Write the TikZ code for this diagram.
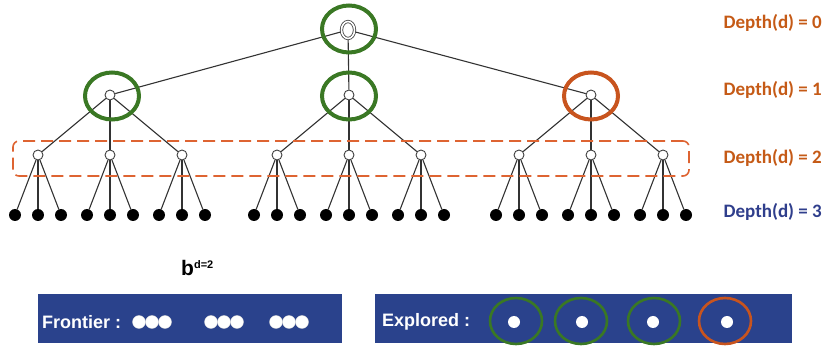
\documentclass[tikz,border=0pt]{standalone}
\usepackage{fontspec}
\setmainfont{Liberation Sans}
\newfontfamily\calfont{Carlito}
\usetikzlibrary{shapes.geometric,backgrounds}
\definecolor{ringgreen}{RGB}{58,120,36}
\definecolor{ringorange}{RGB}{200,84,30}
\definecolor{deptho}{RGB}{197,90,22}
\definecolor{depthb}{RGB}{47,62,140}
\definecolor{boxblue}{RGB}{42,66,140}
\definecolor{dashorange}{RGB}{222,100,50}
\begin{document}
\begin{tikzpicture}[x=1pt,y=-1pt,
  edge/.style={draw=black!80,line width=1.1pt},
  opennode/.style={circle,draw=black!75,fill=white,inner sep=0pt,minimum size=10pt,line width=0.9pt},
  rootnode/.style={ellipse,draw=black!75,double=white,double distance=1.6pt,fill=white,inner sep=0pt,minimum width=13pt,minimum height=17pt,line width=0.8pt},
  leaf/.style={circle,fill=black,inner sep=0pt,minimum size=12pt},
  ring/.style={ellipse,inner sep=0pt,minimum width=54pt,minimum height=47pt,line width=4pt},
  smallring/.style={ellipse,inner sep=0pt,minimum width=52pt,minimum height=46pt,line width=2.6pt},
  depthlabel/.style={anchor=east,inner sep=0pt,font=\calfont\bfseries\fontsize{19}{22}\selectfont},
  panel/.style={rectangle,fill=boxblue,inner sep=0pt,anchor=north west},
  paneltext/.style={anchor=west,inner sep=0pt,text=white,font=\bfseries\fontsize{18}{20}\selectfont},
  whitedot/.style={circle,fill=white,draw=black!15,line width=0.3pt,inner sep=0pt,minimum size=13pt}
]
\useasboundingbox (0,0) rectangle (828,347);

% root
\node[rootnode] (root) at (348,30) {};

% tree: three levels below the root
\foreach \i/\px in {1/110,2/349,3/591} {
  \node[opennode] (a\i) at (\px,95) {};
  \foreach \j/\dx in {1/-72,2/0,3/72} {
    \node[opennode] (b\i\j) at (\px+\dx,155) {};
    \foreach \k/\ex in {1/-23,2/0,3/23} {
      \node[leaf] (c\i\j\k) at (\px+\dx+\ex,215) {};
    }
  }
}

\begin{pgfonlayer}{background}
\foreach \i in {1,2,3} {
  \draw[edge] (root) -- (a\i);
  \foreach \j in {1,2,3} {
    \draw[edge] (a\i) -- (b\i\j);
    \foreach \k in {1,2,3} {\draw[edge] (b\i\j) -- (c\i\j\k);}
  }
}
\end{pgfonlayer}

% highlighted (explored) nodes
\node[ring,draw=ringgreen] (r0) at (349,29) {};
\node[ring,draw=ringgreen] (r1) at (112,96) {};
\node[ring,draw=ringgreen] (r2) at (349,96) {};
\node[ring,draw=ringorange] (r3) at (591,96) {};

% current depth band
\node[draw=dashorange,line width=1.6pt,dash pattern=on 12pt off 6pt,rounded corners=6pt,
      minimum width=676pt,minimum height=35pt,inner sep=0pt] (band) at (351,158.5) {};

% depth labels
\node[depthlabel,text=deptho] (d0) at (822,23) {Depth(d) = 0};
\node[depthlabel,text=deptho] (d1) at (822,90) {Depth(d) = 1};
\node[depthlabel,text=deptho] (d2) at (822,158) {Depth(d) = 2};
\node[depthlabel,text=depthb] (d3) at (822,212) {Depth(d) = 3};

% branching formula
\node[inner sep=0pt,anchor=west] (bd) at (181,268)
  {\bfseries\fontsize{21}{22}\selectfont b\raisebox{7pt}{\fontsize{11}{12}\selectfont d=2}};

% frontier panel
\node[panel,minimum width=304pt,minimum height=49pt] (front) at (38,294) {};
\node[paneltext] (ftext) at (42,322) {Frontier :};
\foreach \n/\x in {1/139,2/152,3/165,4/211,5/224,6/237,7/276,8/289,9/302} {
  \node[whitedot] (f\n) at (\x,322) {};
}

% explored panel
\node[panel,minimum width=417pt,minimum height=49pt] (expl) at (375,294) {};
\node[paneltext] (etext) at (382,322) {Explored :};
\foreach \n/\x/\rx/\c in {1/514/516/ringgreen,2/582/581/ringgreen,3/653/654/ringgreen,4/727/725/ringorange} {
  \node[whitedot,minimum size=12pt,draw=none] (e\n) at (\x,322) {};
  \node[smallring,draw=\c] (er\n) at (\rx,321) {};
}
\end{tikzpicture}
\end{document}
